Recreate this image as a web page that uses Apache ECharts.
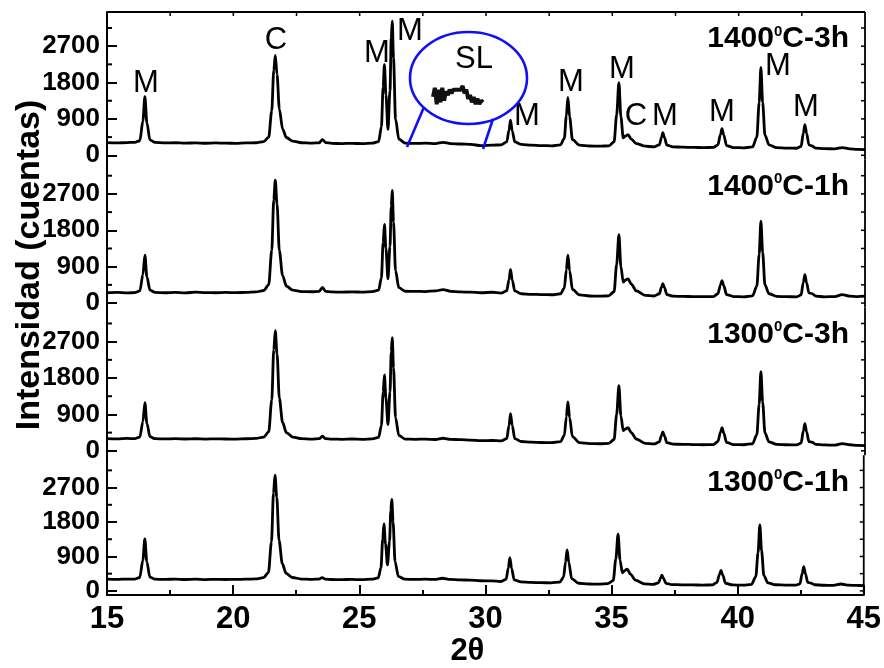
<!DOCTYPE html>
<html>
<head>
<meta charset="utf-8">
<script src="https://cdn.jsdelivr.net/npm/echarts@6/dist/echarts.min.js"></script>
<style>
  html, body { margin: 0; padding: 0; background: #fff; }
  #chart { width: 884px; height: 668px; }
</style>
</head>
<body>
<div id="chart"></div>
<script>
// 2θ sampling shared by all four diffractograms
const twoTheta = [
  15.0, 15.4, 15.8, 16.1, 16.3, 16.42, 16.5, 16.58, 16.7, 16.9,
  17.3, 17.7, 18.1, 18.5, 18.9, 19.3, 19.7, 20.1, 20.5, 20.9,
  21.2, 21.4, 21.52, 21.6, 21.66, 21.73, 21.82, 21.95, 22.1, 22.35, 22.7,
  23.1, 23.4, 23.53, 23.65, 23.9, 24.3, 24.7, 25.1, 25.5,
  25.75, 25.86, 25.93, 25.98, 26.04, 26.12, 26.2, 26.25, 26.29, 26.34, 26.42, 26.55, 26.8,
  27.2, 27.6, 28.0, 28.3, 28.6, 29.0, 29.4, 29.8, 30.25, 30.6,
  30.82, 30.91, 30.97, 31.04, 31.14, 31.4, 31.8, 32.2, 32.6,
  32.95, 33.1, 33.18, 33.24, 33.31, 33.42, 33.7, 34.1, 34.5, 34.85,
  35.07, 35.17, 35.26, 35.34, 35.43, 35.52, 35.62, 35.75, 35.95, 36.3,
  36.65, 36.86, 36.95, 37.0, 37.06, 37.16, 37.4, 37.8, 38.2, 38.6,
  39.0, 39.18, 39.28, 39.34, 39.41, 39.52, 39.8, 40.2, 40.55,
  40.72, 40.81, 40.88, 40.95, 41.04, 41.2, 41.5, 41.9, 42.3,
  42.47, 42.56, 42.62, 42.69, 42.78, 42.9, 43.05, 43.4, 43.8, 44.1, 44.4, 44.7, 45.0
];

// Intensities (cuentas), one row per 2θ group above
const counts1400_3h = [
  312, 305, 315, 320, 360, 850, 1450, 800, 380, 318,
  305, 310, 300, 308, 298, 305, 300, 296, 305, 310,
  340, 450, 1100, 2100, 2470, 2000, 1150, 650, 440, 350, 310,
  300, 310, 390, 315, 295, 290, 296, 288, 300,
  340, 700, 1700, 2245, 1500, 640, 1600, 2900, 3320, 2400, 900, 400, 300,
  295, 300, 290, 320, 290, 280, 270, 240, 250, 260,
  330, 620, 867, 600, 330, 270, 250, 240, 235,
  260, 420, 980, 1430, 950, 390, 250, 230, 225, 235,
  330, 1000, 1800, 950, 430, 480, 510, 400, 290, 225,
  210, 260, 450, 563, 440, 250, 210, 200, 195, 190,
  195, 260, 520, 662, 500, 240, 190, 185, 210,
  450, 1300, 2172, 1300, 500, 260, 190, 180, 175,
  220, 550, 761, 540, 260, 230, 180, 165, 160, 192, 160, 145, 142
];
const counts1400_1h = [
  255, 262, 250, 260, 300, 700, 1183, 650, 320, 262,
  255, 265, 252, 270, 260, 255, 262, 258, 265, 275,
  310, 450, 1300, 2550, 3040, 2450, 1300, 680, 420, 320, 285,
  280, 290, 390, 290, 275, 270, 278, 270, 285,
  320, 620, 1500, 1943, 1350, 600, 1400, 2400, 2785, 2000, 800, 380, 292,
  290, 285, 300, 334, 290, 275, 270, 255, 267, 245,
  300, 580, 830, 560, 300, 230, 215, 210, 205,
  230, 370, 820, 1183, 800, 340, 200, 175, 170, 180,
  280, 950, 1695, 900, 520, 570, 600, 470, 300, 190,
  175, 230, 400, 483, 380, 210, 170, 165, 160, 158,
  160, 230, 450, 557, 430, 210, 160, 155, 180,
  420, 1200, 2025, 1250, 450, 230, 165, 158, 155,
  200, 520, 705, 500, 250, 235, 170, 155, 160, 210, 170, 160, 170
];
const counts1300_3h = [
  300, 295, 305, 302, 340, 720, 1190, 680, 350, 300,
  295, 300, 292, 298, 290, 296, 292, 290, 298, 305,
  340, 470, 1250, 2500, 2970, 2400, 1300, 700, 450, 340, 300,
  290, 300, 360, 300, 290, 285, 292, 285, 295,
  330, 620, 1450, 1880, 1300, 650, 1450, 2450, 2800, 2050, 820, 380, 290,
  285, 288, 280, 310, 285, 275, 265, 250, 255, 245,
  300, 620, 920, 620, 300, 230, 215, 205, 200,
  225, 380, 840, 1210, 820, 350, 200, 180, 175, 185,
  280, 900, 1610, 860, 500, 540, 570, 450, 290, 185,
  170, 220, 390, 470, 370, 200, 165, 160, 155, 150,
  155, 230, 460, 570, 440, 210, 155, 150, 175,
  400, 1150, 1960, 1200, 440, 220, 160, 150, 148,
  190, 490, 670, 470, 230, 215, 160, 145, 140, 180, 150, 135, 130
];
const counts1300_1h = [
  305, 300, 310, 308, 350, 800, 1360, 760, 360, 305,
  300, 308, 298, 305, 296, 302, 298, 300, 305, 312,
  345, 480, 1280, 2560, 3027, 2450, 1320, 710, 460, 350, 310,
  300, 310, 346, 305, 298, 295, 300, 292, 305,
  340, 600, 1350, 1750, 1230, 680, 1300, 2100, 2393, 1800, 760, 380, 305,
  300, 305, 300, 330, 300, 290, 280, 265, 260, 245,
  300, 600, 866, 590, 290, 235, 222, 215, 210,
  230, 360, 760, 1070, 740, 320, 200, 180, 178, 190,
  270, 830, 1485, 800, 470, 530, 570, 440, 280, 185,
  170, 210, 340, 413, 330, 195, 165, 158, 155, 152,
  155, 220, 430, 537, 410, 200, 155, 150, 170,
  370, 1000, 1725, 1050, 400, 210, 160, 152, 150,
  185, 460, 636, 440, 220, 205, 160, 148, 145, 180, 150, 142, 140
];

// Panel captions: temperature / time
const panelTemp = ['1400', '1400', '1300', '1300'];
const panelTime = ['3h', '1h', '3h', '1h'];
const panelCounts = [counts1400_3h, counts1400_1h, counts1300_3h, counts1300_1h];

// Phase labels on the top pattern (M = mullita, C = cristobalita)
const phaseText  = ['M', 'C', 'M', 'M', 'M', 'M', 'M', 'C', 'M', 'M', 'M', 'M'];
const phaseTheta = [16.54, 21.69, 25.68, 26.99, 31.62, 33.36, 35.38, 35.93, 37.08, 39.34, 41.55, 42.66];
const phaseCount = [1776, 2839, 2517, 3063, 958, 1800, 2122, 959, 959, 1058, 2196, 1180];

// Tick values
const countTicks = [0, 900, 1800, 2700];
const countMinorTicks = [450, 1350, 2250, 3150];
const countAllTicks = [0, 450, 900, 1350, 1800, 2250, 2700, 3150];
const thetaTopTicks = [17.5, 20, 22.5, 25, 27.5, 30, 32.5, 35, 37.5, 40, 42.5];

// Magnified amorphous hump shown inside the callout
const slInset = [5, 10, 1, 9, 2, 10, 3, 8, 6, 9, 7, 9, 8, 9, 10, 9, 11, 7, 9, 4, 6, 2, 5, 1, 4, 1, 3, 2];

const FONT = '"Liberation Sans", Arial, sans-serif';
const LEFT = 107, PLOT_W = 758, TOP = 12, PANEL_H = 147.75;
const Y_MIN = -110, Y_MAX = 3545;

const grids = [], xAxes = [], yAxes = [], series = [], graphics = [];

panelCounts.forEach((vals, k) => {
  const last = k === panelCounts.length - 1;
  grids.push({ left: LEFT, width: PLOT_W, top: TOP + k * PANEL_H, height: PANEL_H });

  const xi = xAxes.length;
  xAxes.push({
    gridIndex: k, type: 'value', min: 15, max: 45, interval: 5, show: last, position: 'bottom',
    axisLine: { show: true, onZero: false, lineStyle: { color: '#000', width: 2 } },
    axisTick: { show: true, inside: true, length: 10, lineStyle: { color: '#000', width: 2 } },
    minorTick: { show: true, splitNumber: 2, length: 5, lineStyle: { color: '#000', width: 2 } },
    axisLabel: { show: true, color: '#000', fontSize: 31, fontWeight: 'bold', fontFamily: FONT, margin: 9 },
    splitLine: { show: false },
    name: last ? '2θ' : '', nameLocation: 'middle', nameGap: 32,
    nameTextStyle: { color: '#000', fontSize: 31, fontWeight: 'bold', fontFamily: FONT, padding: [0, 36, 0, 0] }
  });

  const yi = yAxes.length;
  yAxes.push({
    gridIndex: k, type: 'value', min: Y_MIN, max: Y_MAX, position: 'left',
    axisLine: { show: true, onZero: false, lineStyle: { color: '#000', width: 2 } },
    axisTick: { show: true, inside: true, length: 10, customValues: countTicks, lineStyle: { color: '#000', width: 2 } },
    axisLabel: { show: true, customValues: countTicks, formatter: v => String(v),
                 color: '#000', fontSize: 26, fontWeight: 'bold', fontFamily: FONT, margin: 7 },
    splitLine: { show: false }
  });

  series.push({
    type: 'line', xAxisIndex: xi, yAxisIndex: yi,
    data: twoTheta.map((t, i) => [t, vals[i]]),
    showSymbol: false, smooth: 0.3, smoothMonotone: 'x',
    lineStyle: { color: '#000', width: 2.8 }, silent: true, z: 3
  });

  if (k === 0) {
    series.push({
      type: 'scatter', xAxisIndex: xi, yAxisIndex: yi,
      data: phaseText.map((s, i) => ({ name: s, value: [phaseTheta[i], phaseCount[i]] })),
      symbol: 'circle', symbolSize: 1, itemStyle: { color: 'transparent', opacity: 1 },
      label: { show: true, position: 'inside', formatter: '{b}', color: '#000', opacity: 1,
               fontSize: 31, fontFamily: FONT },
      silent: true, z: 4
    });
  }

  graphics.push({
    type: 'text', x: 849, y: TOP + k * PANEL_H + 27,
    style: {
      text: '{n|' + panelTemp[k] + '}{s|0}{n|C-' + panelTime[k] + '}',
      align: 'right', verticalAlign: 'middle',
      rich: {
        n: { fontSize: 30, fontWeight: 'bold', fontFamily: FONT, fill: '#000' },
        s: { fontSize: 15, fontWeight: 'bold', fontFamily: FONT, fill: '#000', verticalAlign: 'top' }
      }
    }
  });
});

// Inset with the magnified hump inside the callout
const insetGrid = grids.length;
grids.push({ left: 433, top: 86, width: 50, height: 20 });
const insetX = xAxes.length;
xAxes.push({ gridIndex: insetGrid, type: 'category', show: false, boundaryGap: false, data: slInset.map((_, i) => i) });
const insetY = yAxes.length;
yAxes.push({ gridIndex: insetGrid, type: 'value', show: false, min: 0, max: 11 });
series.push({
  type: 'line', xAxisIndex: insetX, yAxisIndex: insetY, data: slInset,
  showSymbol: false, lineStyle: { color: '#111', width: 4 }, silent: true, z: 5
});

// Callout: ellipse with "SL" and leader lines to the pattern
const BLUE = '#1010f5';
graphics.push(
  { type: 'ellipse', shape: { cx: 468.5, cy: 78, rx: 58.5, ry: 46 },
    style: { fill: 'none', stroke: BLUE, lineWidth: 2.6 }, z: 10 },
  { type: 'line', shape: { x1: 424, y1: 107, x2: 407, y2: 147 },
    style: { stroke: BLUE, lineWidth: 2.6 }, z: 10 },
  { type: 'line', shape: { x1: 493, y1: 119, x2: 483, y2: 149 },
    style: { stroke: BLUE, lineWidth: 2.6 }, z: 10 },
  { type: 'text', x: 474, y: 59,
    style: { text: 'SL', fontSize: 31, fontFamily: FONT, fill: '#000', align: 'center', verticalAlign: 'middle' }, z: 10 },
  { type: 'text', x: 30, y: 265, rotation: Math.PI / 2,
    style: { text: 'Intensidad (cuentas)', fontSize: 34, fontWeight: 'bold', fontFamily: FONT, fill: '#000',
             align: 'center', verticalAlign: 'middle' }, z: 10 }
);

const chart = echarts.init(document.getElementById('chart'), null, { renderer: 'canvas' });
chart.setOption({
  animation: false,
  backgroundColor: '#fff',
  grid: grids,
  xAxis: xAxes,
  yAxis: yAxes,
  series: series
});

// Frame: top and right edges with their ticks, plus minor count ticks on the left edge,
// placed through the panels' own scales
const BLACK = '#000';
const frameLine = (x1, y1, x2, y2, w) => ({
  type: 'line', silent: true, z: 8,
  shape: { x1, y1, x2, y2 }, style: { stroke: BLACK, lineWidth: w }
});
panelCounts.forEach((_, k) => {
  const px = (theta, count) => chart.convertToPixel({ gridIndex: k }, [theta, count]);
  const topRight = px(45, Y_MAX), bottomRight = px(45, Y_MIN);
  graphics.push(frameLine(topRight[0], topRight[1], bottomRight[0], bottomRight[1], 1.8));
  countAllTicks.forEach(v => {
    const p = px(45, v);
    graphics.push(frameLine(p[0] - 4, p[1], p[0], p[1], 1.5));
  });
  countMinorTicks.forEach(v => {
    const p = px(15, v);
    graphics.push(frameLine(p[0], p[1], p[0] + 5, p[1], 2));
  });
  if (k === 0) {
    const topLeft = px(15, Y_MAX);
    graphics.push(frameLine(topLeft[0], topLeft[1], topRight[0], topRight[1], 1.8));
    thetaTopTicks.forEach(t => {
      const p = px(t, Y_MAX);
      graphics.push(frameLine(p[0], p[1], p[0], p[1] + 4, 1.5));
    });
  }
});

chart.setOption({ graphic: { elements: graphics } });
</script>
</body>
</html>
